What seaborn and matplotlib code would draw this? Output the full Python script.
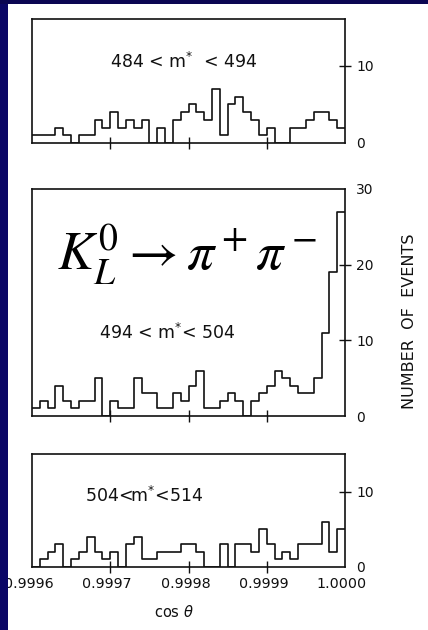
import numpy as np
import pandas as pd
import matplotlib
matplotlib.use("Agg")
import matplotlib.pyplot as plt
from matplotlib.patches import Rectangle
from matplotlib.transforms import ScaledTranslation
import seaborn as sns

# cos(theta) range and binning (40 bins of 0.00001)
COS_MIN = 0.9996
COS_MAX = 1.0000
N_BINS = 40

# event counts per cos(theta) bin, one array per m* window (MeV)
counts_484_494 = [1, 1, 1, 2, 1, 0, 1, 1, 3, 2,
                  4, 2, 3, 2, 3, 0, 2, 0, 3, 4,
                  5, 4, 3, 7, 1, 5, 6, 4, 3, 1,
                  2, 0, 0, 2, 2, 3, 4, 4, 3, 2]
counts_494_504 = [1, 2, 1, 4, 2, 1, 2, 2, 5, 0,
                  2, 1, 1, 5, 3, 3, 1, 1, 3, 2,
                  4, 6, 1, 1, 2, 3, 2, 0, 2, 3,
                  4, 6, 5, 4, 3, 3, 5, 11, 19, 27]
counts_504_514 = [0, 1, 2, 3, 0, 1, 2, 4, 2, 1,
                  2, 0, 3, 4, 1, 1, 2, 2, 2, 3,
                  3, 2, 0, 0, 3, 0, 3, 3, 2, 5,
                  3, 1, 2, 1, 3, 3, 3, 6, 2, 5]

window_labels = [r"484 < m$^{*}$  < 494", r"494 < m$^{*}$< 504", r"504<m$^{*}$<514"]
x_tick_values = [0.9996, 0.9997, 0.9998, 0.9999, 1.0000]
x_tick_labels = ["0.9996", "0.9997", "0.9998", "0.9999", "1.0000"]

sns.set_style("white")
plt.rcParams["font.family"] = ["DejaVu Sans"]
plt.rcParams["mathtext.fontset"] = "dejavusans"

W, H = 428, 630
fig = plt.figure(figsize=(W / 100, H / 100), dpi=100, facecolor="white")

def frac_box(x0, y0, x1, y1):
    return [x0 / W, 1 - y1 / H, (x1 - x0) / W, (y1 - y0) / H]

edges = np.linspace(COS_MIN, COS_MAX, N_BINS + 1)
centers = 0.5 * (edges[:-1] + edges[1:])

panels = [
    (counts_484_494, frac_box(32, 19, 345, 143), 16, [0, 10], ["0", "10"]),
    (counts_494_504, frac_box(32, 189, 345, 416), 30, [0, 10, 20, 30], ["0", "10", "20", "30"]),
    (counts_504_514, frac_box(32, 454, 345, 567), 15, [0, 10], ["0", "10"]),
]

ink = "#111111"
axes = []
for i, (counts, rect, ytop, yt, ytl) in enumerate(panels):
    ax = fig.add_axes(rect)
    df = pd.DataFrame({"cos_theta": centers, "events": counts})
    sns.histplot(data=df, x="cos_theta", weights="events", bins=N_BINS,
                 binrange=(COS_MIN, COS_MAX), element="step",
                 fill=False, color=ink, linewidth=1.2, ax=ax)
    ax.set_xlim(COS_MIN, COS_MAX)
    ax.set_ylim(0, ytop)
    ax.set_xlabel("")
    ax.set_ylabel("")
    for s in ax.spines.values():
        s.set_visible(True)
        s.set_color(ink)
        s.set_linewidth(1.2)
    ax.yaxis.tick_right()
    ax.set_yticks(yt)
    ax.set_yticklabels(ytl)
    ax.tick_params(axis="y", which="major", left=False, right=True,
                   direction="inout", length=8, width=1.0, color=ink,
                   labelsize=10, labelcolor=ink, pad=4)
    for t, v in zip(ax.yaxis.get_major_ticks(), yt):
        if v in (0, ytop):
            t.tick2line.set_visible(False)
    if i < 2:
        ax.set_xticks(x_tick_values[1:4])
        ax.tick_params(axis="x", bottom=True, labelbottom=False,
                       direction="inout", length=8, width=1.0, color=ink)
    else:
        ax.set_xticks(x_tick_values)
        ax.set_xticklabels(x_tick_labels)
        ax.tick_params(axis="x", bottom=True, direction="inout", length=8,
                       width=1.0, color=ink, labelsize=10.3, labelcolor=ink, pad=3)
        xt = ax.xaxis.get_major_ticks()
        xt[0].tick1line.set_visible(False)
        xt[-1].tick1line.set_visible(False)
        shift = ScaledTranslation(-3 / 100, 0, fig.dpi_scale_trans)
        for lbl in ax.get_xticklabels():
            lbl.set_transform(lbl.get_transform() + shift)
    axes.append(ax)

# mass-window annotations
fig.text(184 / W, 1 - 62 / H, window_labels[0], ha="center", va="center",
         fontsize=12.5, color=ink)
fig.text(167 / W, 1 - 333 / H, window_labels[1], ha="center", va="center",
         fontsize=12.5, color=ink)
fig.text(144 / W, 1 - 496 / H, window_labels[2], ha="center", va="center",
         fontsize=12.5, color=ink)

# decay channel title
fig.text(57 / W, 1 - 270 / H, r"$K_L^0 \rightarrow \pi^+\pi^-$", ha="left",
         va="baseline", fontsize=39, color="black",
         math_fontfamily="stix")

# axis titles
fig.text(410 / W, 1 - 321 / H, "NUMBER  OF  EVENTS", rotation=90,
         ha="center", va="center", fontsize=11.5, color=ink)
fig.text(174 / W, 1 - 612 / H, r"cos $\theta$", ha="center", va="center",
         fontsize=10.5, color=ink)

# slide border
fig.patches.append(Rectangle((0, 0), 8 / W, 1, transform=fig.transFigure,
                             facecolor="#0b0766", edgecolor="none", zorder=10))
fig.patches.append(Rectangle((0, 1 - 4 / H), 1, 4 / H, transform=fig.transFigure,
                             facecolor="#0b0652", edgecolor="none", zorder=10))

fig.savefig("out.png", dpi=100, facecolor="white")
